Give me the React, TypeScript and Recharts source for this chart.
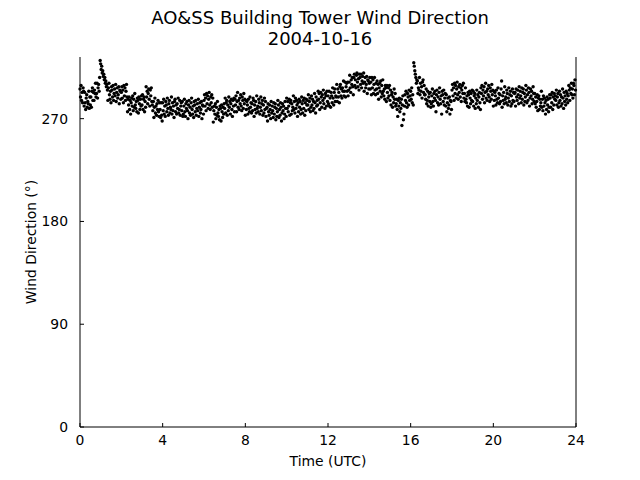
import React from "react";
import { ScatterChart, Scatter, XAxis, YAxis } from "recharts";

// wind direction (deg), one value every 1.5 minutes, one array per UTC hour
const hour00 = [296,289,299,286,293,284,297,294,281,293,284,278,288,291,280,285,283,294,279,289,282,289,280,294,297,286,293,286,295,292,301,289,292,301,288,297,300,294,306,321];
const hour01 = [318,313,316,310,312,307,309,304,306,301,303,298,300,295,286,297,301,291,287,294,284,298,295,289,299,286,292,296,290,300,285,293,297,288,291,298,283,295,294,287];
const hour02 = [293,298,288,295,284,299,290,297,286,294,300,289,276,287,282,289,278,286,274,284,288,281,290,277,287,280,292,282,279,285,276,288,286,275,289,283,278,287,281,290];
const hour03 = [282,291,278,287,289,276,285,280,298,289,294,283,292,296,287,281,295,290,297,285,282,277,285,271,280,288,275,281,273,283,278,286,276,272,284,278,271,284,273,268];
const hour04 = [284,277,287,274,281,272,285,282,276,288,279,273,283,286,275,280,278,289,274,284,277,281,271,285,287,276,282,274,283,279,288,275,278,286,273,281,284,277,285,272];
const hour05 = [274,281,287,276,272,283,279,285,277,270,282,286,275,280,273,284,288,278,274,281,271,285,282,276,286,273,279,283,277,287,272,280,284,275,278,285,270,282,281,274];
const hour06 = [286,291,281,288,277,292,283,290,279,287,293,282,278,289,284,291,280,288,267,277,281,274,283,270,280,273,285,275,272,278,269,281,279,268,282,276,271,280,274,283];
const hour07 = [279,288,275,284,286,273,282,277,289,280,285,274,283,287,278,272,286,281,288,276,287,282,290,276,285,293,280,286,278,288,283,291,281,277,289,286,279,292,283,287];
const hour08 = [273,286,278,285,282,274,287,279,276,289,280,284,275,283,277,288,286,272,282,278,285,275,290,279,281,276,287,284,274,280,289,277,283,286,273,282,275,288,278,285];
const hour09 = [272,279,280,268,283,276,273,282,278,270,285,275,281,277,271,284,274,280,283,269,279,272,276,286,282,271,278,273,284,280,268,275,283,277,281,270,274,285,279,272];
const hour10 = [288,279,285,276,281,287,273,284,286,274,283,277,280,290,278,285,275,288,279,286,282,272,284,276,287,280,285,274,278,289,283,275,286,279,288,273,284,277,287,282];
const hour11 = [286,282,291,278,285,288,276,280,290,282,287,277,285,279,292,284,275,289,281,286,282,294,287,292,278,284,293,289,280,291,286,295,283,288,279,292,290,281,294,285];
const hour12 = [290,283,294,281,288,280,293,290,284,297,288,282,293,296,285,290,289,300,285,296,289,293,284,298,300,290,296,288,297,294,303,290,294,302,289,298,301,294,302,290];
const hour13 = [295,302,308,297,293,304,300,306,298,291,306,309,299,304,297,308,310,302,298,305,295,309,306,300,309,297,303,307,301,310,294,302,306,297,300,307,292,304,303,296];
const hour14 = [301,306,296,302,291,306,297,304,292,300,306,295,291,301,296,303,292,300,287,297,301,294,303,289,299,292,304,294,290,296,287,299,297,285,299,293,288,297,290,299];
const hour15 = [286,295,282,291,293,280,289,284,296,287,292,281,283,287,278,272,286,281,288,276,284,279,287,264,282,290,269,274,281,291,286,294,284,280,292,289,282,295,286,290];
const hour16 = [294,287,297,284,291,282,319,316,312,309,306,301,304,303,292,297,295,306,291,301,294,298,288,302,304,293,299,291,291,287,296,283,286,294,281,289,292,285,293,280];
const hour17 = [283,290,296,285,281,292,288,294,286,276,291,295,284,289,282,293,297,287,283,290,274,294,291,285,295,282,288,292,281,291,276,284,288,279,282,289,274,286,285,278];
const hour18 = [295,300,290,297,286,301,292,299,288,296,302,291,287,298,293,300,289,297,285,295,299,292,301,288,292,285,297,287,284,290,281,293,291,280,294,288,283,292,286,295];
const hour19 = [285,294,281,290,292,279,288,283,295,286,291,280,289,293,284,278,297,292,299,287,295,290,298,284,293,301,288,294,286,296,291,299,289,285,297,294,287,300,291,295];
const hour20 = [281,294,286,293,290,282,295,287,284,297,288,292,283,291,285,296,303,280,290,286,293,283,298,287,289,284,295,292,282,288,297,285,291,294,281,290,283,296,286,293];
const hour21 = [285,292,293,281,296,289,286,295,291,283,298,288,294,290,284,297,287,293,296,282,292,285,289,299,295,284,291,286,297,293,281,288,296,290,294,283,287,298,292,285];
const hour22 = [292,283,289,280,285,291,277,288,290,278,287,281,284,294,280,287,277,290,281,288,284,274,286,278,289,282,287,276,280,291,288,280,291,284,293,278,289,282,292,287];
const hour23 = [290,286,295,282,289,292,280,284,294,286,291,281,289,283,296,288,279,293,285,290,282,294,287,292,284,290,299,295,286,297,292,301,291,296,288,301,299,291,304,295];

const hours = [
  hour00, hour01, hour02, hour03, hour04, hour05, hour06, hour07,
  hour08, hour09, hour10, hour11, hour12, hour13, hour14, hour15,
  hour16, hour17, hour18, hour19, hour20, hour21, hour22, hour23,
];

const xTicks = [0, 4, 8, 12, 16, 20, 24];
const yTicks = [0, 90, 180, 270];

const points = hours.flatMap((vals, h) =>
  vals.map((dir, i) => ({ t: h + i / vals.length, dir }))
);

const FONT = "'DejaVu Sans', sans-serif";
const tickStyle = { fill: "#000", fontSize: 13.9, fontFamily: FONT };
const axisLine = { stroke: "#000", strokeWidth: 1 };

const Dot = (props: any) => (
  <circle cx={props.cx} cy={props.cy} r={1.7} fill="#000" />
);

export default function App() {
  return (
    <div
      style={{
        position: "absolute",
        left: 0,
        top: 0,
        width: 640,
        height: 480,
        background: "#fff",
        fontFamily: FONT,
      }}
    >
      <div
        style={{
          position: "absolute",
          top: 7,
          left: 0,
          width: 640,
          textAlign: "center",
          fontSize: 18,
          lineHeight: "21px",
          color: "#000",
        }}
      >
        AO&amp;SS Building Tower Wind Direction
        <br />
        2004-10-16
      </div>
      <ScatterChart
        width={640}
        height={480}
        margin={{ top: 57, right: 63, bottom: 0, left: 0 }}
      >
        <XAxis
          dataKey="t"
          type="number"
          domain={[0, 24]}
          ticks={xTicks}
          height={53}
          tickSize={-4}
          tickMargin={12}
          tick={tickStyle}
          axisLine={axisLine}
          tickLine={axisLine}
          label={{
            value: "Time (UTC)",
            position: "insideBottom",
            offset: 14,
            style: { fill: "#000", fontSize: 13.9, fontFamily: FONT },
          }}
        />
        <XAxis
          xAxisId="top"
          orientation="top"
          type="number"
          domain={[0, 24]}
          ticks={xTicks}
          height={0}
          tickSize={-4}
          tick={false}
          axisLine={axisLine}
          tickLine={axisLine}
        />
        <YAxis
          dataKey="dir"
          type="number"
          domain={[0, 324]}
          ticks={yTicks}
          width={80}
          tickSize={-4}
          tickMargin={16}
          tick={tickStyle}
          axisLine={axisLine}
          tickLine={axisLine}
          label={{
            value: "Wind Direction (°)",
            angle: -90,
            position: "insideLeft",
            offset: 31,
            style: {
              fill: "#000",
              fontSize: 13.9,
              fontFamily: FONT,
              textAnchor: "middle",
            },
          }}
        />
        <YAxis
          yAxisId="right"
          orientation="right"
          type="number"
          domain={[0, 324]}
          ticks={yTicks}
          width={1}
          tickSize={-4}
          tick={false}
          axisLine={axisLine}
          tickLine={axisLine}
        />
        <Scatter data={points} shape={Dot} isAnimationActive={false} />
      </ScatterChart>
    </div>
  );
}
